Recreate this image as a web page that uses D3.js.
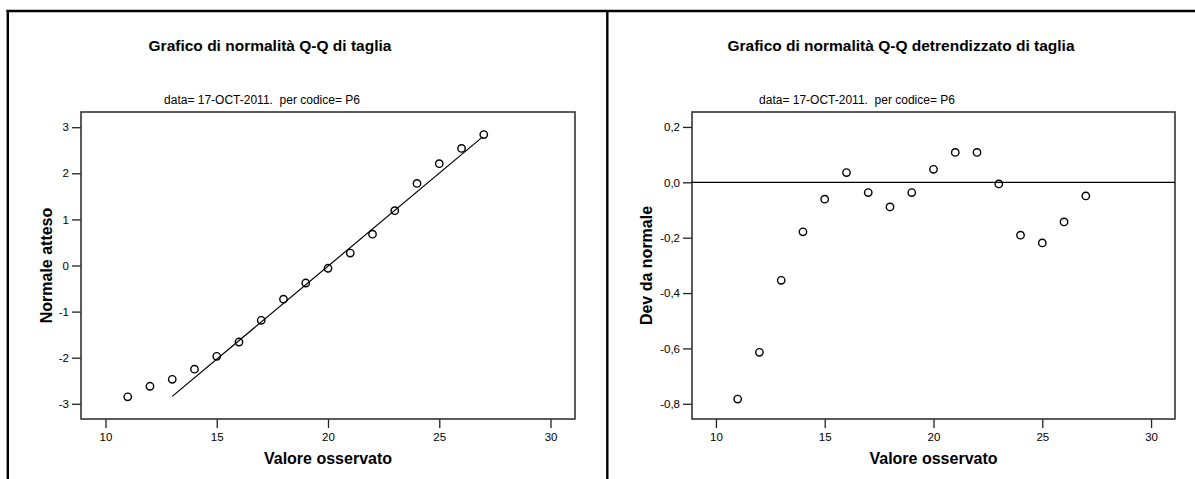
<!DOCTYPE html>
<html>
<head>
<meta charset="utf-8">
<script src="https://cdn.jsdelivr.net/npm/d3@7"></script>
<style>
  html, body { margin: 0; padding: 0; background: #fff; }
  svg { display: block; }
  text { font-family: "Liberation Sans", Arial, sans-serif; fill: #000; }
  .sub { white-space: pre; }
</style>
</head>
<body>
<svg id="chart" width="1195" height="479"></svg>
<script>
// Observed sizes (taglia) shared by both plots
const observed = [11, 12, 13, 14, 15, 16, 17, 18, 19, 20, 21, 22, 23, 24, 25, 26, 27];
// Expected normal quantiles for each observed value
const expectedNormal = [-2.85, -2.62, -2.47, -2.25, -1.97, -1.66, -1.19, -0.73, -0.38, -0.06, 0.27, 0.68, 1.19, 1.78, 2.21, 2.54, 2.84];
// Deviation from normal (detrended)
const deviation = [-0.783, -0.614, -0.354, -0.179, -0.061, 0.035, -0.037, -0.089, -0.037, 0.047, 0.108, 0.108, -0.006, -0.191, -0.219, -0.143, -0.049];
// Reference line end points of the Q-Q plot
const refLineX = [13.0, 26.95];
const refLineY = [-2.84, 2.79];

const xTicks = [10, 15, 20, 25, 30];
const qqTicks = [-3, -2, -1, 0, 1, 2, 3];
const detTicks = [-0.8, -0.6, -0.4, -0.2, 0.0, 0.2];

const titleLeft = "Grafico di normalità Q-Q di taglia";
const titleRight = "Grafico di normalità Q-Q detrendizzato di taglia";
const subtitle = "data= 17-OCT-2011.  per codice= P6";
const xLabel = "Valore osservato";
const yLabelLeft = "Normale atteso";
const yLabelRight = "Dev da normale";

const svg = d3.select("#chart");
svg.append("rect").attr("width", 1195).attr("height", 479).attr("fill", "#fff");

// Outer frame: top rule, left rule and the panel divider
const frame = svg.append("g").attr("stroke", "#000").attr("stroke-width", 2.4);
frame.append("line").attr("x1", 6.5).attr("x2", 1195).attr("y1", 11).attr("y2", 11);
frame.append("line").attr("x1", 7.8).attr("x2", 7.8).attr("y1", 10).attr("y2", 479);
frame.append("line").attr("x1", 607.3).attr("x2", 607.3).attr("y1", 10).attr("y2", 479);

// Italian number style: decimal comma, plain hyphen for negatives
const itLocale = d3.formatLocale({ decimal: ",", thousands: ".", grouping: [3], currency: ["", "€"], minus: "-" });
const fmt1 = itLocale.format(".1f");
const fmtInt = itLocale.format("d");

function panel(opts) {
  const g = svg.append("g");
  const x = d3.scaleLinear().domain([8.9, 31.1]).range([opts.left, opts.right]);
  const y = d3.scaleLinear().domain(opts.yDomain).range([419, 112]);

  // titles
  g.append("text").attr("x", opts.titleX).attr("y", 51)
    .attr("text-anchor", "middle").attr("font-size", 15.5).attr("font-weight", "bold")
    .text(opts.title);
  g.append("text").attr("class", "sub").attr("x", opts.subX).attr("y", 104)
    .attr("xml:space", "preserve")
    .attr("text-anchor", "middle").attr("font-size", 12).text(subtitle);

  // axes
  const xAxis = d3.axisBottom(x).tickValues(xTicks).tickSize(9).tickPadding(5).tickSizeOuter(0);
  const yAxis = d3.axisLeft(y).tickValues(opts.yTicks).tickSize(9).tickPadding(3).tickSizeOuter(0)
    .tickFormat(opts.yFormat);
  const gx = g.append("g").attr("transform", "translate(0,419)").call(xAxis);
  const gy = g.append("g").attr("transform", `translate(${opts.left},0)`).call(yAxis);
  [gx, gy].forEach(a => {
    a.select(".domain").remove();
    a.selectAll(".tick line").attr("stroke", "#222").attr("stroke-width", 1.3);
    a.selectAll(".tick text").attr("font-size", 11.5).attr("fill", "#222")
      .attr("font-family", "'Liberation Sans', Arial, sans-serif");
  });

  // plot frame
  g.append("rect").attr("x", opts.left).attr("y", 112)
    .attr("width", opts.right - opts.left).attr("height", 419 - 112)
    .attr("fill", "none").attr("stroke", "#333").attr("stroke-width", 1.6);

  // axis titles
  g.append("text").attr("x", (opts.left + opts.right) / 2).attr("y", 464)
    .attr("text-anchor", "middle").attr("font-size", 16).attr("font-weight", "bold").text(xLabel);
  g.append("text").attr("transform", `translate(${opts.yLabelX},${(112 + 419) / 2}) rotate(-90)`)
    .attr("text-anchor", "middle").attr("font-size", 16).attr("font-weight", "bold").text(opts.yLabel);

  opts.draw(g, x, y);

  // points
  g.append("g").selectAll("circle").data(observed.map((v, i) => [v, opts.values[i]]))
    .join("circle")
    .attr("cx", d => x(d[0])).attr("cy", d => y(d[1])).attr("r", 3.7)
    .attr("fill", "none").attr("stroke", "#000").attr("stroke-width", 1.4);
}

panel({
  left: 81, right: 575, yDomain: [-3.33, 3.33], yTicks: qqTicks, yFormat: fmtInt,
  title: titleLeft, titleX: 270, subX: 262, yLabel: yLabelLeft, yLabelX: 52,
  values: expectedNormal,
  draw: (g, x, y) => {
    g.append("line")
      .attr("x1", x(refLineX[0])).attr("y1", y(refLineY[0]))
      .attr("x2", x(refLineX[1])).attr("y2", y(refLineY[1]))
      .attr("stroke", "#000").attr("stroke-width", 1.2);
  }
});

panel({
  left: 692, right: 1175, yDomain: [-0.855, 0.254], yTicks: detTicks, yFormat: fmt1,
  title: titleRight, titleX: 901, subX: 857, yLabel: yLabelRight, yLabelX: 652,
  values: deviation,
  draw: (g, x, y) => {
    g.append("line")
      .attr("x1", x.range()[0]).attr("x2", x.range()[1])
      .attr("y1", y(0)).attr("y2", y(0))
      .attr("stroke", "#000").attr("stroke-width", 1.2);
  }
});
</script>
</body>
</html>
